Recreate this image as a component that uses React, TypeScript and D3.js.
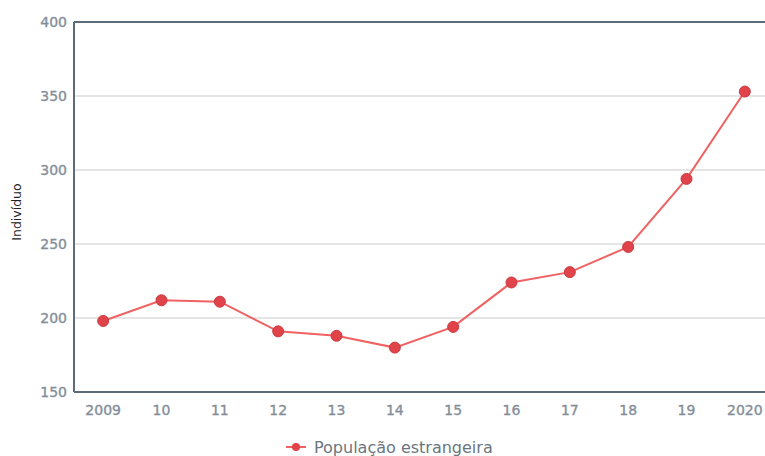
import React from "react";
import * as d3 from "d3";

const categories = ["2009", "10", "11", "12", "13", "14", "15", "16", "17", "18", "19", "2020"];
const values = [198, 212, 211, 191, 188, 180, 194, 224, 231, 248, 294, 353];
const yTicks = [150, 200, 250, 300, 350, 400];
const seriesName = "População estrangeira";
const yTitle = "Indivíduo";

export default function App() {
  const W = 765, H = 456;
  const left = 74, right = 774, top = 22, bottom = 392;
  const x = d3.scaleBand().domain(categories).range([left, right]);
  const y = d3.scaleLinear().domain([150, 400]).range([bottom, top]);
  const cx = (c: string) => (x(c) as number) + x.bandwidth() / 2;
  const line = d3.line<number>().x((_, i) => cx(categories[i])).y((d) => y(d));
  const font = "'DejaVu Sans', Verdana, sans-serif";
  return (
    <svg width={W} height={H} style={{ position: "absolute", left: 0, top: 0 }} fontFamily={font}>
      <rect width={W} height={H} fill="#fff" />
      {yTicks.slice(1, -1).map((t) => (
        <line key={t} x1={left} x2={right} y1={y(t)} y2={y(t)} stroke="#dcdcdc" strokeWidth={1.5} />
      ))}
      <line x1={left} x2={right} y1={top} y2={top} stroke="#5d6b7a" strokeWidth={2} />
      <line x1={left} x2={left} y1={top} y2={bottom} stroke="#5d6b7a" strokeWidth={2} />
      <line x1={left} x2={right} y1={bottom} y2={bottom} stroke="#5d6b7a" strokeWidth={2} />
      {yTicks.map((t) => (
        <text key={t} x={left - 7} y={y(t)} dy="0.35em" textAnchor="end" fontSize={14} fill="#848e98" stroke="#848e98" strokeWidth={0.35}>
          {t}
        </text>
      ))}
      {categories.map((c) => (
        <text key={c} x={cx(c)} y={bottom + 23} textAnchor="middle" fontSize={14} fill="#848e98" stroke="#848e98" strokeWidth={0.35}>
          {c}
        </text>
      ))}
      <text transform={`translate(21,212) rotate(-90)`} textAnchor="middle" fontSize={12.5} fill="#222">
        {yTitle}
      </text>
      <path d={line(values) || ""} fill="none" stroke="#f06262" strokeWidth={2} />
      {values.map((v, i) => (
        <circle key={i} cx={cx(categories[i])} cy={y(v)} r={5.5} fill="#e0434a" stroke="#c93a3f" strokeWidth={1} />
      ))}
      <line x1={286} x2={306} y1={447} y2={447} stroke="#f06262" strokeWidth={2} />
      <circle cx={296} cy={447} r={4} fill="#e0434a" />
      <text x={314} y={447} dy="0.35em" fontSize={16} fill="#6b7580">
        {seriesName}
      </text>
    </svg>
  );
}
